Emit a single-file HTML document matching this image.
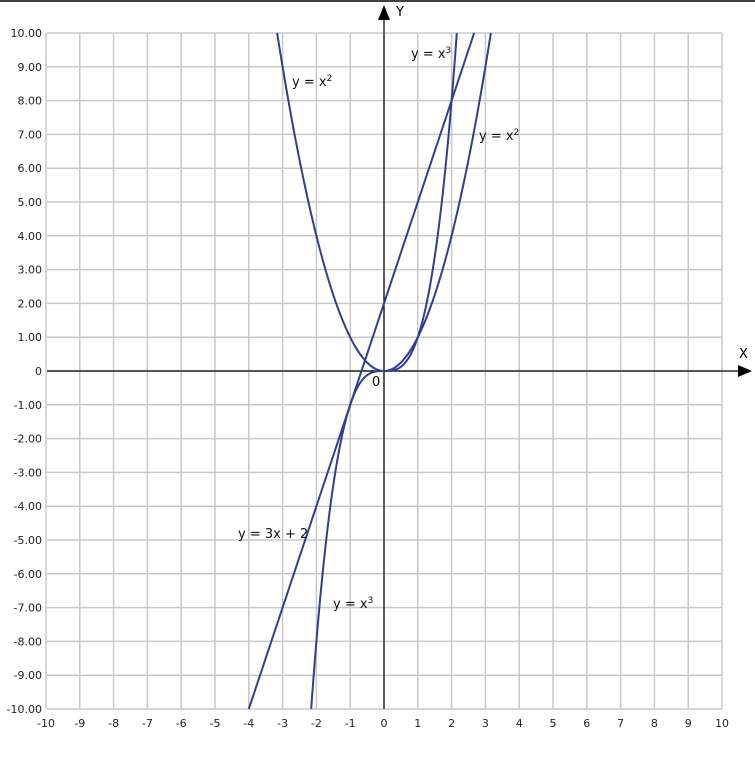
<!DOCTYPE html>
<html><head><meta charset="utf-8"><style>
body{margin:0;background:#fff;}
svg{display:block;font-family:"DejaVu Sans","Liberation Sans",sans-serif;}
</style></head><body>
<svg id="s" width="755" height="761" viewBox="0 0 755 761" xmlns="http://www.w3.org/2000/svg">
<rect width="755" height="761" fill="#fff"/>
<line x1="0" y1="1" x2="755" y2="1" stroke="#000" stroke-width="1.5"/>
<g id="grid" stroke="#c8c8c8" stroke-width="1"></g>
<g id="labels" font-size="11" fill="#222"></g>
<line x1="47" y1="371" x2="745" y2="371" stroke="#000" stroke-width="1.2"/>
<polygon points="752,371 738,365 738,377" fill="#000"/>
<line x1="384" y1="709" x2="384" y2="14" stroke="#000" stroke-width="1.2"/>
<polygon points="384,5 378,20 390,20" fill="#000"/>
<text x="739" y="358" font-size="13">X</text>
<text x="396" y="16" font-size="13">Y</text>
<text x="372" y="386" font-size="13">0</text>
<g id="curves" fill="none" stroke="#2e3f91" stroke-width="2"></g>
<g font-size="13" fill="#111">
<text x="292" y="86">y = x<tspan font-size="9" dy="-5">2</tspan></text>
<text x="479" y="140">y = x<tspan font-size="9" dy="-5">2</tspan></text>
<text x="411" y="58">y = x<tspan font-size="9" dy="-5">3</tspan></text>
<text x="333" y="608">y = x<tspan font-size="9" dy="-5">3</tspan></text>
<text x="238" y="538">y = 3x + 2</text>
</g>
</svg>
<script>
var ns="http://www.w3.org/2000/svg",x0=384,y0=371,k=33.8;
function el(p,t,a,txt){var e=document.createElementNS(ns,t);for(var i in a)e.setAttribute(i,a[i]);if(txt!=null)e.textContent=txt;document.getElementById(p).appendChild(e);}
for(var i=-10;i<=10;i++){
 var X=x0+i*k,Y=y0-i*k;
 el("grid","line",{x1:X,y1:33,x2:X,y2:709,"stroke-width":1.5});
 el("grid","line",{x1:47,y1:Y,x2:722,y2:Y,"stroke-width":1.5});
 el("labels","text",{x:X,y:727,"text-anchor":"middle"},String(i));
 el("labels","text",{x:42,y:Y+4,"text-anchor":"end"},i==0?"0":i.toFixed(2));
}
function curve(f,a,b){var d="",n=800;for(var j=0;j<=n;j++){var t=a+(b-a)*j/n,v=f(t);d+=(d?"L":"M")+(x0+t*k).toFixed(2)+","+(y0-v*k).toFixed(2);}el("curves","path",{d:d});}
curve(function(x){return x*x},-3.1623,3.1623);
curve(function(x){return x*x*x},-2.1544,2.1544);
curve(function(x){return 3*x+2},-4,2.6667);
</script>
</body></html>
